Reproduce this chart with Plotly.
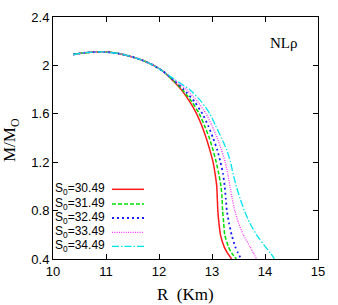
import plotly.graph_objects as go

# shared upper branch (R in km, M/M_sun)
R_upper = [10.38, 10.60, 10.95, 11.25, 11.50, 11.70, 11.90, 12.08]
M_upper = [2.09, 2.105, 2.112, 2.097, 2.07, 2.04, 2.00, 1.95]

M_lower = [1.88, 1.80, 1.70, 1.60, 1.50, 1.40, 1.30, 1.20, 1.10, 1.00, 0.90,
           0.80, 0.70, 0.60, 0.50, 0.45, 0.40]
R_s3049 = [12.25, 12.42, 12.58, 12.71, 12.81, 12.89, 12.96, 13.02, 13.06, 13.09, 13.10,
           13.11, 13.13, 13.16, 13.23, 13.29, 13.37]
R_s3149 = [12.26, 12.44, 12.62, 12.76, 12.86, 12.95, 13.02, 13.08, 13.13, 13.17, 13.19,
           13.20, 13.22, 13.24, 13.31, 13.37, 13.46]
R_s3249 = [12.27, 12.47, 12.67, 12.82, 12.93, 13.02, 13.10, 13.16, 13.21, 13.24, 13.26,
           13.28, 13.32, 13.37, 13.44, 13.49, 13.55]
R_s3349 = [12.29, 12.52, 12.73, 12.89, 13.00, 13.10, 13.18, 13.25, 13.30, 13.34, 13.38,
           13.43, 13.50, 13.59, 13.72, 13.78, 13.84]
R_s3449 = [12.31, 12.58, 12.80, 12.96, 13.07, 13.18, 13.28, 13.35, 13.40, 13.46, 13.53,
           13.61, 13.71, 13.84, 14.01, 14.10, 14.18]

labels = ["S<sub>0</sub>=30.49", "S<sub>0</sub>=31.49", "S<sub>0</sub>=32.49",
          "S<sub>0</sub>=33.49", "S<sub>0</sub>=34.49"]
x_ticks = [10, 11, 12, 13, 14, 15]
y_ticks = [0.4, 0.8, 1.2, 1.6, 2.0, 2.4]
y_tick_text = ["0.4", "0.8", "1.2", "1.6", "2", "2.4"]

colors = ["#ff1a1a", "#00e000", "#1a1aff", "#ff33ff", "#00e5f0"]
dashes = ["solid", "4px,2px", "2px,3px", "1px,1.3px", "7px,2px,1.5px,2px"]
widths = [1.5, 1.5, 1.8, 1.3, 1.3]
series = [R_s3049, R_s3149, R_s3249, R_s3349, R_s3449]

fig = go.Figure()
for R_low, c, d, w in zip(series, colors, dashes, widths):
    fig.add_trace(go.Scatter(
        x=R_upper + R_low, y=M_upper + M_lower, mode="lines",
        line=dict(color=c, dash=d, width=w, shape="spline", smoothing=0.5),
        showlegend=False, hoverinfo="skip"))

# manual legend (text left, sample right)
L, T, PW, PH = 53, 17, 265, 242
row_y = [189.3, 204, 218, 232.3, 246.3]
for lab, c, d, w, yp in zip(labels, colors, dashes, widths, row_y):
    yy = 1 - (yp - T) / PH
    fig.add_annotation(x=(107 - L) / PW, y=yy, xref="paper", yref="paper",
                       text=lab, showarrow=False, xanchor="right", yanchor="middle",
                       font=dict(family="Liberation Sans, Arial", size=12, color="#000"))
    fig.add_shape(type="line", xref="paper", yref="paper",
                  x0=(112 - L) / PW, x1=(144 - L) / PW, y0=yy, y1=yy,
                  line=dict(color=c, dash=d, width=w))

fig.add_annotation(x=(283 - L) / PW, y=0.891, xref="paper", yref="paper", text="NLρ",
                   showarrow=False, xanchor="center", yanchor="middle",
                   font=dict(family="Liberation Serif, Times New Roman", size=15, color="#000"))

# axis titles
fig.add_annotation(x=(185 - L) / PW, y=1 - (294 - T) / PH, xref="paper", yref="paper",
                   text="R  (Km)", showarrow=False, xanchor="center", yanchor="middle",
                   font=dict(family="Liberation Serif, Times New Roman", size=17, color="#000"))
fig.add_annotation(x=(11 - L) / PW, y=1 - (140 - T) / PH, xref="paper", yref="paper",
                   text="M/M<sub>O</sub>", showarrow=False, textangle=-90,
                   xanchor="center", yanchor="middle",
                   font=dict(family="Liberation Serif, Times New Roman", size=17, color="#000"))

axis_common = dict(showline=True, linecolor="black", linewidth=1, mirror="ticks",
                   ticks="inside", ticklen=5, tickcolor="black", showgrid=False,
                   zeroline=False, automargin=False,
                   tickfont=dict(family="Liberation Sans, Arial", size=13, color="#000"))

fig.update_layout(
    width=338, height=305,
    margin=dict(l=53, r=20, t=17, b=46),
    paper_bgcolor="white", plot_bgcolor="white",
    xaxis=dict(range=[10, 15], tickvals=x_ticks, ticktext=[str(v) for v in x_ticks],
               **axis_common),
    yaxis=dict(range=[0.4, 2.4], tickvals=y_ticks, ticktext=y_tick_text,
               **axis_common),
)

fig.write_html("out.html", config={"displayModeBar": False},
               post_script="document.body.style.margin='0';document.body.style.overflow='hidden';")
